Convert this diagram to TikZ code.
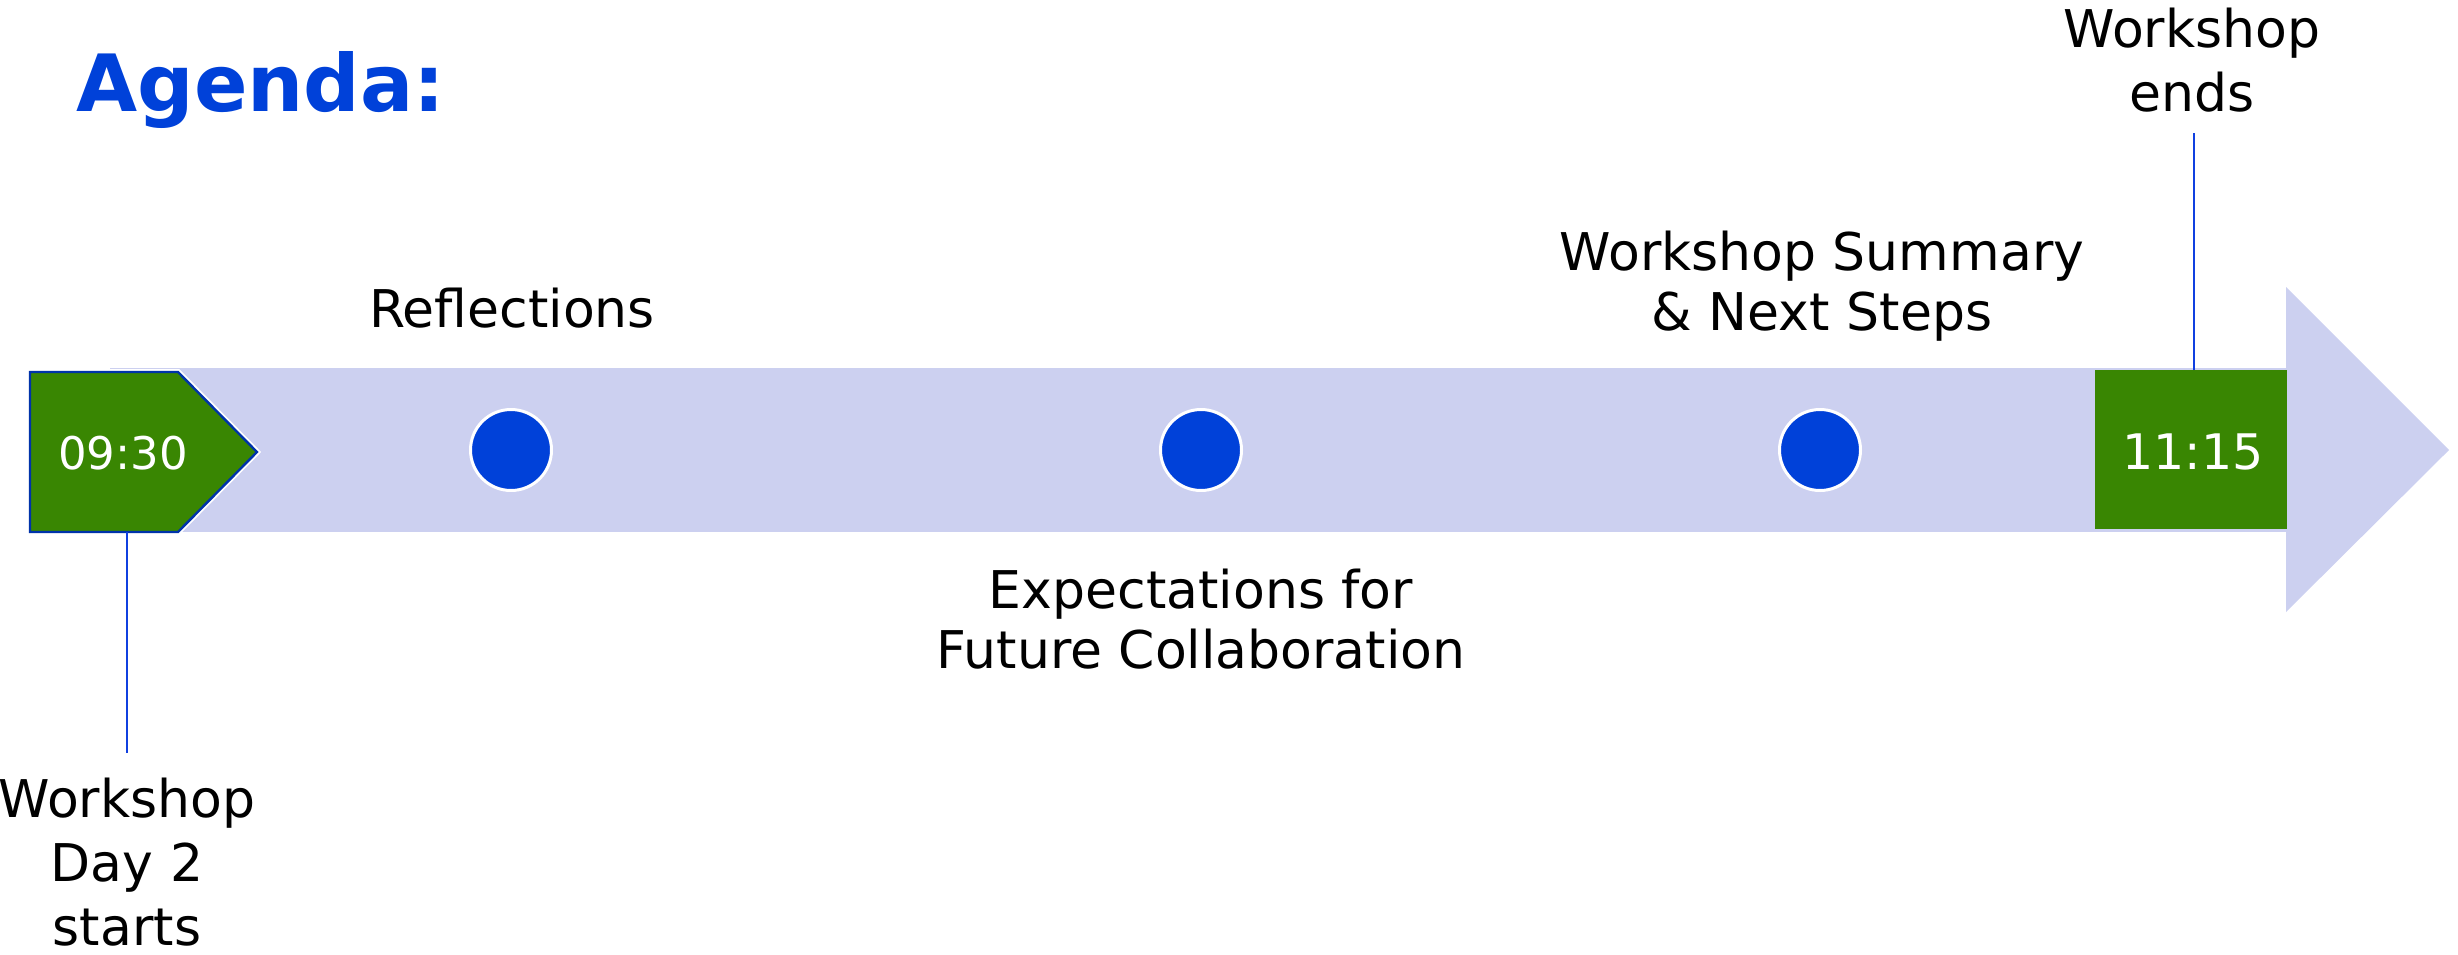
\documentclass[tikz,border=0pt]{standalone}
\usepackage{fontspec}
\setmainfont{DejaVu Sans}
\definecolor{bandcol}{RGB}{204,208,240}
\definecolor{greencol}{RGB}{57,134,2}
\definecolor{dotblue}{RGB}{0,65,217}
\definecolor{outblue}{RGB}{0,51,170}
\definecolor{lineblue}{RGB}{16,64,224}
\begin{document}
\begin{tikzpicture}[x=0.5pt,y=-0.5pt,
  lbl/.style={inner sep=0pt,align=center,font=\fontsize{26}{32}\selectfont,anchor=north},
  tightlbl/.style={lbl,font=\fontsize{26}{29.8}\selectfont},
  timelbl/.style={inner sep=0pt,text=white,anchor=base},
  dot/.style={circle,fill=dotblue,draw=white,line width=1.5pt,minimum size=40.5pt,inner sep=0pt},
  conn/.style={draw=lineblue,line width=1pt}]
\useasboundingbox (0,0) rectangle (2458,954);
% title
\node[anchor=base west,inner sep=0pt,text=dotblue,font=\fontsize{39.5}{48}\selectfont\bfseries] (title) at (76,111) {Agenda:};
% band and arrow head
\fill[bandcol] (110,368) rectangle (2290,532);
\fill[bandcol] (2286,287) -- (2449,450) -- (2286,612) -- cycle;
% start pentagon
\draw[white,line width=3pt,line join=miter] (30,372) -- (178,372) -- (257,452) -- (178,532) -- (30,532) -- cycle;
\filldraw[fill=greencol,draw=outblue,line width=1.2pt] (30,372) -- (178,372) -- (257,452) -- (178,532) -- (30,532) -- cycle;
\node[timelbl,font=\fontsize{22.5}{27}\selectfont] (t930) at (123,469) {09:30};
\coordinate (pentbot) at (127,532);
% end box
\fill[greencol] (2095,370) rectangle (2287,529);
\node[timelbl,font=\fontsize{24.5}{29}\selectfont] (t1115) at (2193,469) {11:15};
\coordinate (boxtop) at (2194,370);
% dots
\node[dot] (d1) at (511,450) {};
\node[dot] (d2) at (1201,450) {};
\node[dot] (d3) at (1820,450) {};
% labels
\node[lbl] (refl) at (512,288) {Reflections};
\node[tightlbl] (expect) at (1201,568.5) {Expectations for\\Future Collaboration};
\node[tightlbl] (summ) at (1822,230.5) {Workshop Summary\\\& Next Steps};
\node[lbl] (ends) at (2192,8) {Workshop\\ends};
\node[lbl] (starts) at (127,778) {Workshop\\Day 2\\starts};
% connectors
\coordinate (startend) at (127,753);
\coordinate (endsend) at (2194,133);
\draw[conn] (pentbot) -- (startend);
\draw[conn] (boxtop) -- (endsend);
\end{tikzpicture}
\end{document}
